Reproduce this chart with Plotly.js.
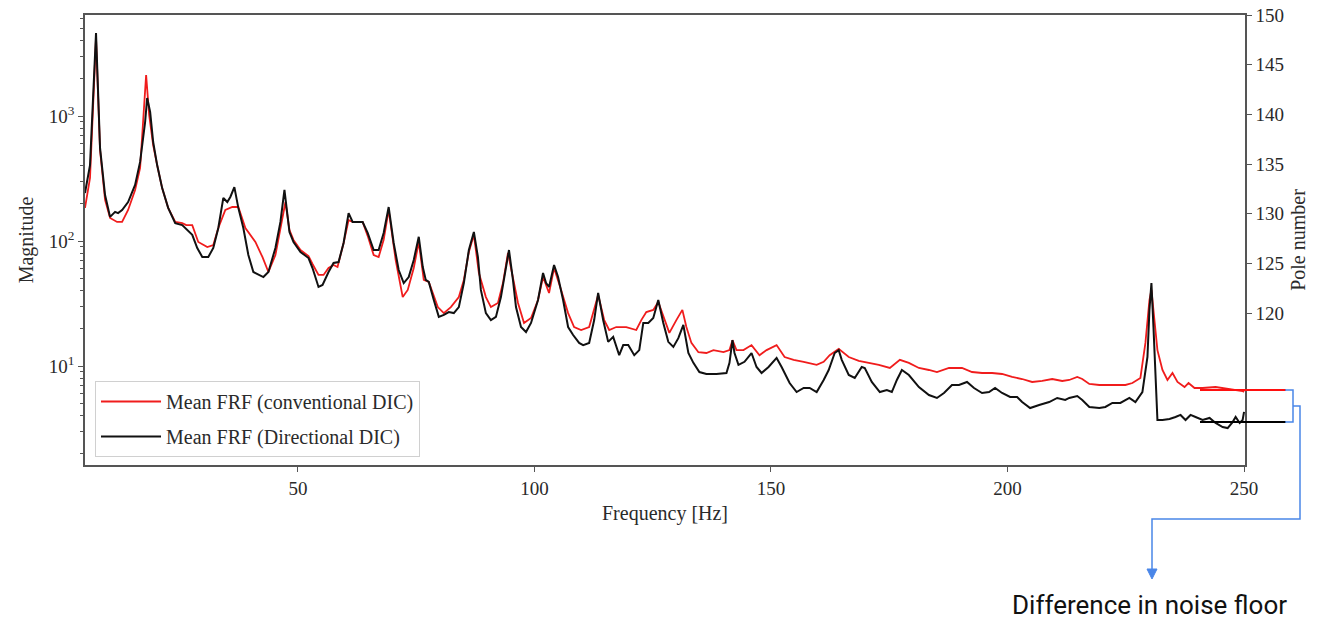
<!DOCTYPE html>
<html>
<head>
<meta charset="utf-8">
<script src="https://cdn.plot.ly/plotly-3.0.1.min.js"></script>
<style>
  html, body { margin: 0; padding: 0; background: #ffffff; }
  #chart { width: 1319px; height: 620px; }
</style>
</head>
<body>
<div id="chart"></div>
<script>
// ---- Data ----
const freqConventional = [5.0, 6.06, 7.33, 8.18, 9.24, 10.30, 11.78, 12.84, 14.11, 15.59,
  16.65, 17.29, 17.92, 18.56, 19.41, 20.25, 21.31, 22.58, 24.07, 25.55,
  26.40, 27.67, 28.94, 30.85, 32.12, 33.18, 34.66, 36.14, 37.41, 38.90,
  41.02, 42.50, 43.77, 45.25, 46.31, 47.37, 48.22, 49.07, 50.55, 52.25,
  53.09, 54.36, 55.42, 56.48, 57.54, 58.38, 59.66, 60.72, 61.57, 63.69,
  64.75, 66.02, 67.07, 68.13, 69.19, 70.67, 72.16, 73.22, 74.49, 75.55,
  76.61, 77.67, 79.58, 80.85, 82.33, 84.02, 85.08, 86.14, 87.20, 88.26,
  89.74, 90.80, 92.29, 93.35, 94.41, 95.46, 96.53, 97.80, 99.28, 100.76,
  101.82, 103.09, 104.15, 105.64, 107.12, 108.39, 109.87, 111.57, 112.63, 113.47,
  114.75, 115.81, 117.29, 119.41, 121.53, 122.59, 123.65, 125.12, 126.18, 127.24,
  128.52, 130.00, 131.27, 132.12, 133.18, 134.66, 136.35, 137.84, 139.96, 141.23,
  141.86, 142.71, 144.19, 145.89, 147.58, 149.07, 151.19, 152.88, 154.79, 156.91,
  159.66, 161.14, 162.41, 164.32, 166.44, 168.56, 170.68, 172.80, 175.13, 177.25,
  179.15, 181.27, 183.39, 185.08, 187.63, 190.38, 192.50, 194.62, 196.74, 198.85,
  200.97, 203.09, 205.21, 207.33, 209.45, 211.57, 213.05, 214.74, 215.80, 217.29,
  219.41, 222.16, 224.92, 226.40, 228.09, 229.15, 230.00, 230.42, 231.06, 231.69,
  232.75, 233.81, 234.87, 235.93, 237.42, 238.26, 239.53, 241.23, 243.98, 246.95,
  249.70, 250.0];
const magConventional = [184, 319, 4207, 535, 213, 153, 142, 142, 177, 256,
  384, 929, 2128, 1019, 586, 405, 265, 184, 142, 139,
  134, 134, 98.2, 89.5, 92.9, 127, 177, 187, 187, 127,
  98.2, 74.5, 56.5, 77.3, 127, 205, 122, 102, 84.7, 75.9,
  65.5, 53.5, 53.5, 60.8, 64.3, 61.9, 96.4, 147, 142, 142,
  110, 77.3, 74.5, 102, 177, 70.5, 35.6, 40.6, 60.8, 98.2,
  48.8, 47.0, 29.6, 26.5, 29.6, 35.6, 48.8, 81.7, 112, 55.5,
  35.6, 29.6, 31.9, 46.1, 80.2, 51.5, 31.9, 22.1, 24.2, 33.7,
  51.5, 38.4, 60.8, 40.6, 26.5, 20.5, 19.4, 20.5, 28.1, 37.0,
  23.3, 19.4, 20.5, 20.5, 19.4, 23.3, 27.0, 28.1, 32.5, 24.7,
  18.4, 23.3, 28.1, 20.5, 15.3, 12.9, 12.7, 13.4, 12.9, 13.4,
  16.1, 13.4, 13.4, 14.7, 12.2, 13.4, 14.7, 11.8, 11.2, 10.8,
  10.2, 10.8, 12.2, 13.7, 11.8, 11.0, 10.6, 10.2, 9.64, 11.2,
  10.6, 9.64, 9.29, 8.95, 9.64, 9.64, 8.95, 8.79, 8.79, 8.63,
  8.17, 7.87, 7.45, 7.59, 7.87, 7.59, 7.73, 8.17, 7.87, 7.18,
  7.05, 7.05, 7.05, 7.31, 8.02, 15.3, 33.7, 40.6, 23.3, 13.4,
  9.29, 7.73, 8.79, 7.45, 6.79, 7.31, 6.67, 6.67, 6.79, 6.55,
  6.31, 6.19];

const freqDirectional = [5.0, 6.06, 7.33, 8.18, 9.24, 10.30, 11.36, 11.99, 12.84, 14.11,
  15.59, 16.65, 17.71, 18.14, 18.77, 19.41, 20.25, 21.31, 22.58, 24.07,
  25.55, 26.19, 27.67, 28.73, 29.79, 31.06, 32.12, 33.18, 34.24, 35.08,
  35.72, 36.57, 37.41, 38.47, 39.53, 40.59, 42.71, 43.77, 45.25, 46.31,
  47.16, 48.22, 49.07, 50.55, 52.25, 53.09, 54.36, 55.21, 56.48, 57.54,
  58.60, 59.66, 60.72, 61.57, 63.69, 64.75, 66.02, 67.07, 68.13, 69.19,
  70.25, 71.31, 72.37, 73.43, 74.49, 75.55, 76.40, 77.03, 77.67, 78.73,
  79.79, 80.85, 81.90, 82.96, 84.02, 85.08, 86.14, 87.20, 88.05, 88.68,
  89.74, 90.80, 91.86, 92.92, 93.98, 94.62, 95.46, 96.10, 97.16, 98.22,
  99.28, 100.76, 101.82, 102.46, 103.09, 104.15, 105.00, 106.06, 107.12, 108.18,
  109.45, 110.30, 111.57, 112.63, 113.47, 114.53, 115.59, 116.65, 117.92, 118.77,
  119.83, 121.10, 122.16, 123.01, 124.07, 125.12, 126.18, 127.24, 128.30, 129.36,
  130.42, 131.48, 132.54, 133.60, 134.87, 136.35, 138.47, 140.59, 141.23, 141.86,
  142.29, 143.13, 144.40, 145.89, 146.95, 148.01, 149.49, 151.19, 152.25, 153.94,
  155.42, 156.91, 158.18, 159.66, 161.14, 162.20, 163.47, 164.32, 164.96, 166.44,
  167.71, 169.19, 169.83, 171.31, 173.01, 174.49, 175.55, 176.61, 177.67, 179.15,
  181.27, 183.39, 185.08, 186.57, 188.26, 189.74, 191.44, 192.92, 194.62, 196.10,
  197.37, 198.85, 200.55, 202.03, 203.09, 204.78, 206.69, 208.81, 210.50, 212.20,
  213.05, 214.74, 215.80, 217.29, 219.41, 220.68, 222.16, 223.85, 225.76, 227.03,
  228.51, 229.58, 230.00, 230.42, 230.85, 231.27, 231.69, 232.75, 234.24, 235.51,
  236.57, 237.63, 238.69, 239.75, 241.23, 242.71, 243.98, 245.47, 246.53, 247.58,
  248.22, 249.07, 249.70, 250.0];
const magDirectional = [242, 405, 4613, 555, 233, 156, 171, 167, 177, 205,
  281, 429, 895, 1393, 1076, 619, 405, 265, 184, 139,
  134, 127, 112, 87.9, 74.5, 74.5, 87.9, 127, 221, 205,
  225, 270, 184, 127, 77.3, 56.5, 51.5, 56.5, 87.9, 142,
  256, 118, 98.2, 81.7, 73.1, 60.8, 42.9, 44.5, 56.5, 66.7,
  67.9, 96.4, 167, 142, 142, 116, 84.7, 84.7, 116, 187,
  96.4, 58.6, 46.1, 51.5, 70.5, 108, 61.9, 48.8, 47.0, 33.7,
  24.7, 25.6, 27.0, 26.5, 29.6, 46.1, 84.7, 118, 74.5, 40.6,
  26.5, 23.3, 24.7, 35.6, 61.9, 84.7, 48.8, 29.6, 20.5, 18.7,
  22.1, 33.7, 55.5, 46.1, 42.9, 64.3, 51.5, 33.7, 20.5, 17.7,
  15.3, 14.7, 15.3, 23.3, 38.4, 23.3, 15.6, 17.1, 12.2, 14.7,
  14.7, 12.2, 13.4, 22.1, 22.1, 24.2, 33.7, 22.1, 15.6, 14.2,
  16.7, 21.3, 12.7, 10.6, 8.95, 8.63, 8.63, 8.79, 10.6, 16.1,
  12.7, 10.2, 10.8, 12.7, 9.82, 8.79, 9.82, 11.6, 9.82, 7.31,
  6.19, 6.67, 6.67, 6.19, 7.73, 9.29, 12.7, 13.4, 11.2, 8.47,
  8.02, 9.82, 9.64, 7.45, 6.19, 6.43, 6.19, 7.73, 9.29, 8.47,
  6.79, 5.86, 5.55, 6.08, 7.05, 7.05, 7.45, 6.67, 6.08, 6.19,
  6.67, 6.08, 5.65, 5.65, 5.15, 4.61, 4.88, 5.15, 5.55, 5.35,
  5.55, 5.75, 5.35, 4.70, 4.61, 4.70, 5.06, 5.06, 5.55, 5.15,
  6.19, 11.8, 28.1, 46.1, 20.5, 8.17, 3.70, 3.70, 3.77, 3.91,
  4.06, 3.70, 4.06, 3.91, 3.70, 3.84, 3.50, 3.25, 3.19, 3.56,
  3.91, 3.50, 3.70, 4.29];

const seriesNames = ['Mean FRF (conventional DIC)', 'Mean FRF (Directional DIC)'];
const freqTicks = [50, 100, 150, 200, 250];
const magTickVals = [10, 100, 1000];
const magTickText = ['10<sup>1</sup>', '10<sup>2</sup>', '10<sup>3</sup>'];
const magMinorVals = [2, 3, 4, 5, 6, 7, 8, 9, 20, 30, 40, 50, 60, 70, 80, 90, 200, 300, 400, 500, 600, 700, 800, 900, 2000, 3000, 4000, 5000, 6000];
const poleTicks = [120, 125, 130, 135, 140, 145, 150];
const annotationText = 'Difference in noise floor';

// ---- Chart ----
const SERIF = 'Liberation Serif, Times New Roman, serif';
const AX = '#555555';
const TXT = '#2a2a2a';
const BLUE = '#4a86e8';

const traces = [
  {
    x: freqConventional, y: magConventional, type: 'scatter', mode: 'lines',
    name: seriesNames[0], legendgroup: 'a',
    line: { color: '#f01c1c', width: 1.8 }
  },
  {
    x: freqDirectional, y: magDirectional, type: 'scatter', mode: 'lines',
    name: seriesNames[1], legendgroup: 'b',
    line: { color: '#111111', width: 2 }
  },
  {
    x: [], y: [], type: 'scatter', mode: 'markers', yaxis: 'y2',
    showlegend: false, hoverinfo: 'skip'
  }
];

// helpers converting pixel positions of the hand-drawn annotation to paper fractions
const L = 85, R = 1245, T = 15, B = 465;
const px = v => (v - L) / (R - L);
const py = v => (B - v) / (B - T);

const layout = {
  width: 1319, height: 620,
  margin: { l: L, r: 1319 - R, t: T, b: 620 - B },
  paper_bgcolor: '#ffffff', plot_bgcolor: '#ffffff',
  font: { family: SERIF, color: TXT, size: 19 },
  showlegend: true,
  legend: {
    x: px(95), y: py(457), xanchor: 'left', yanchor: 'bottom',
    bgcolor: 'rgba(255,255,255,0.85)', bordercolor: '#d0d0d0', borderwidth: 1,
    font: { family: SERIF, size: 20, color: TXT },
    traceorder: 'grouped', tracegroupgap: 6, itemwidth: 60
  },
  xaxis: {
    type: 'linear', range: [5.0, 250.2],
    tickvals: freqTicks, ticks: 'outside', ticklen: 5, tickcolor: AX,
    showgrid: false, zeroline: false,
    showline: true, linecolor: AX, linewidth: 1.5, mirror: true,
    tickfont: { family: SERIF, size: 19, color: TXT },
    title: { text: 'Frequency [Hz]', font: { family: SERIF, size: 20, color: TXT }, standoff: 8 }
  },
  yaxis: {
    type: 'log', range: [0.208, 3.808],
    tickvals: magTickVals, ticktext: magTickText,
    ticks: 'outside', ticklen: 5, tickcolor: AX,
    minor: { tickvals: magMinorVals, ticks: 'outside', ticklen: 3, tickcolor: AX, showgrid: false },
    showgrid: false, zeroline: false,
    showline: true, linecolor: AX, linewidth: 1.5, mirror: true,
    tickfont: { family: SERIF, size: 19, color: TXT },
    title: { text: 'Magnitude', font: { family: SERIF, size: 20, color: TXT }, standoff: 10 }
  },
  yaxis2: {
    overlaying: 'y', side: 'right', range: [104.7, 150],
    tickvals: poleTicks, ticks: 'outside', ticklen: 5, tickcolor: AX,
    showgrid: false, zeroline: false,
    showline: true, linecolor: AX, linewidth: 1.5,
    tickfont: { family: SERIF, size: 19, color: TXT },
    title: { text: 'Pole number', font: { family: SERIF, size: 20, color: TXT }, standoff: 8 }
  },
  shapes: [
    { type: 'line', xref: 'paper', yref: 'paper', x0: px(1200), x1: px(1286), y0: py(390), y1: py(390),
      line: { color: '#ff1010', width: 2 } },
    { type: 'line', xref: 'paper', yref: 'paper', x0: px(1200), x1: px(1286), y0: py(422), y1: py(422),
      line: { color: '#000000', width: 2 } },
    { type: 'path', xref: 'paper', yref: 'paper',
      path: 'M ' + px(1285) + ',' + py(390) + ' L ' + px(1293) + ',' + py(390) +
            ' L ' + px(1293) + ',' + py(422) + ' L ' + px(1285) + ',' + py(422),
      line: { color: BLUE, width: 1.5 } },
    { type: 'path', xref: 'paper', yref: 'paper',
      path: 'M ' + px(1293) + ',' + py(406) + ' L ' + px(1300) + ',' + py(406) +
            ' L ' + px(1300) + ',' + py(519) + ' L ' + px(1152) + ',' + py(519) +
            ' L ' + px(1152) + ',' + py(570),
      line: { color: BLUE, width: 1.5 } },
    { type: 'path', xref: 'paper', yref: 'paper',
      path: 'M ' + px(1147) + ',' + py(569) + ' L ' + px(1157) + ',' + py(569) +
            ' L ' + px(1152) + ',' + py(579) + ' Z',
      fillcolor: BLUE, line: { color: BLUE, width: 1 } }
  ],
  annotations: [
    { xref: 'paper', yref: 'paper', x: px(1149), y: py(605), text: annotationText,
      showarrow: false, xanchor: 'center', yanchor: 'middle',
      font: { family: 'Roboto, Open Sans, sans-serif', size: 26, color: '#111111' } }
  ]
};

Plotly.newPlot('chart', traces, layout, { displayModeBar: false, responsive: false });
</script>
</body>
</html>
